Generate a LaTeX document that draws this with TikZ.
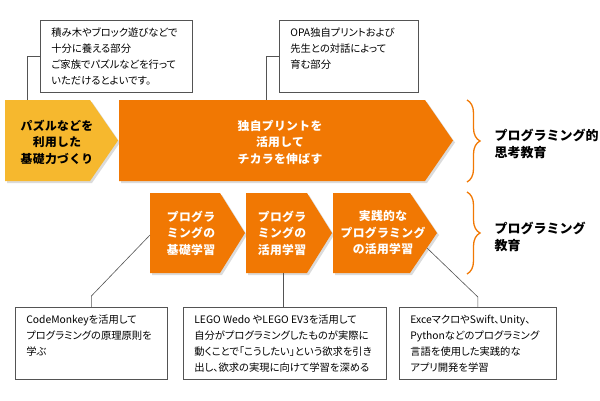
\documentclass[tikz,border=0pt]{standalone}
\usepackage{fontspec}
\setmainfont{Noto Sans CJK JP}[RawFeature={+palt}]
\newfontfamily\plainjp{Noto Sans CJK JP}[LetterSpace=3]
\newfontfamily\labeljp{Noto Sans CJK JP}
\usetikzlibrary{calc,decorations.pathreplacing}
\definecolor{ChevClr}{rgb}{0.945,0.47,0.01}
\definecolor{BaseClr}{rgb}{0.965,0.72,0.18}
\definecolor{LineClr}{rgb}{0.33,0.33,0.33}

\begin{document}
\begin{tikzpicture}[x=1pt,y=-1pt,
  shadow/.style={fill=black!14,shift={(2,2)}},
  info/.style={draw=LineClr,line width=0.8pt,fill=white,anchor=north west,
    inner xsep=11pt,inner ysep=7.5pt,font=\fontsize{10.3}{16}\selectfont},
  link/.style={draw=LineClr,line width=0.6pt},
  chevtext/.style={align=center,text=white,
    font=\plainjp\fontsize{11.8}{16.5}\selectfont\bfseries},
  brace/.style={draw=ChevClr,line width=1.3pt,decorate,
    decoration={brace,amplitude=13pt,aspect=0.5}},
  lab/.style={anchor=west,align=left,font=\labeljp\fontsize{13}{17}\selectfont\bfseries}]
\useasboundingbox (0,0) rectangle (600,400);

\fill[shadow] (5,100) -- (90,100) -- (118,140.5) -- (90,181) -- (5,181) -- cycle;
\fill[shadow] (119,100) -- (425,100) -- (453,140.5) -- (425,181) -- (119,181) -- cycle;
\fill[shadow] (150,193) -- (220,193) -- (245,233) -- (220,273) -- (150,273) -- cycle;
\fill[shadow] (246,193) -- (307,193) -- (332,233) -- (307,273) -- (246,273) -- cycle;
\fill[shadow] (333,193) -- (410,193) -- (437,233) -- (410,273) -- (333,273) -- cycle;

\fill[BaseClr] (5,100) -- (90,100) -- (118,140.5) -- (90,181) -- (5,181) -- cycle;
\fill[ChevClr] (119,100) -- (425,100) -- (453,140.5) -- (425,181) -- (119,181) -- cycle;
\fill[ChevClr] (150,193) -- (220,193) -- (245,233) -- (220,273) -- (150,273) -- cycle;
\fill[ChevClr] (246,193) -- (307,193) -- (332,233) -- (307,273) -- (246,273) -- cycle;
\fill[ChevClr] (333,193) -- (410,193) -- (437,233) -- (410,273) -- (333,273) -- cycle;

\node[chevtext,text=black] (yl) at (57,142) {パズルなどを\\利用した\\基礎力づくり};
\node[chevtext] (big) at (280,142) {独自プリントを\\活用して\\チカラを伸ばす};
\node[chevtext] (c1) at (191,233) {プログラ\\ミングの\\基礎学習};
\node[chevtext] (c2) at (282,233) {プログラ\\ミングの\\活用学習};
\node[chevtext] (c3) at (383,233) {実践的な\\プログラミング\\の活用学習};

\node[info] (tl) at (40,20) {\parbox[t][57pt][t]{130pt}{積み木やブロック遊びなどで\\十分に養える部分\\ご家族でパズルなどを行って\\いただけるとよいです。}};
\node[info] (tr) at (279,20) {\parbox[t][57pt][t]{117pt}{OPA独自プリントおよび\\先生との対話によって\\育む部分}};
\node[info] (b1) at (15,307) {\parbox[t][57pt][t]{130pt}{CodeMonkeyを活用して\\プログラミングの原理原則を\\学ぶ}};
\node[info] (b2) at (183,307) {\parbox[t][57pt][t]{181pt}{LEGO Wedo やLEGO EV3を活用して\\自分がプログラミングしたものが実際に\\動くことで「こうしたい」という欲求を引き\\出し、欲求の実現に向けて学習を深める}};
\node[info] (b3) at (399,307) {\parbox[t][57pt][t]{135pt}{ExceマクロやSwift、Unity、\\Pythonなどのプログラミング\\言語を使用した実践的な\\アプリ開発を学習}};

\coordinate (yltop) at (27,100);
\coordinate (bigtop) at (266,100);
\coordinate (c1in) at (150,235);
\coordinate (c2out) at (283,273);
\coordinate (c3out) at (427,248);
\draw[link] (tl.west) -| (yltop);
\draw[link] (tr.west) -| (bigtop);
\draw[link] (b1.north) -- ++(0,-11) -- (c1in);
\draw[link] (c2out) -- (c2out |- b2.north);
\draw[link] (b3.north) -- ++(0,-10) -- (c3out);

\draw[brace] (467,100) -- (467,182);
\draw[brace] (467,192) -- (467,274);
\node[lab] (lab1) at (491,144) {プログラミング的\\思考教育};
\node[lab] (lab2) at (491,237) {プログラミング\\教育};

\end{tikzpicture}
\end{document}
